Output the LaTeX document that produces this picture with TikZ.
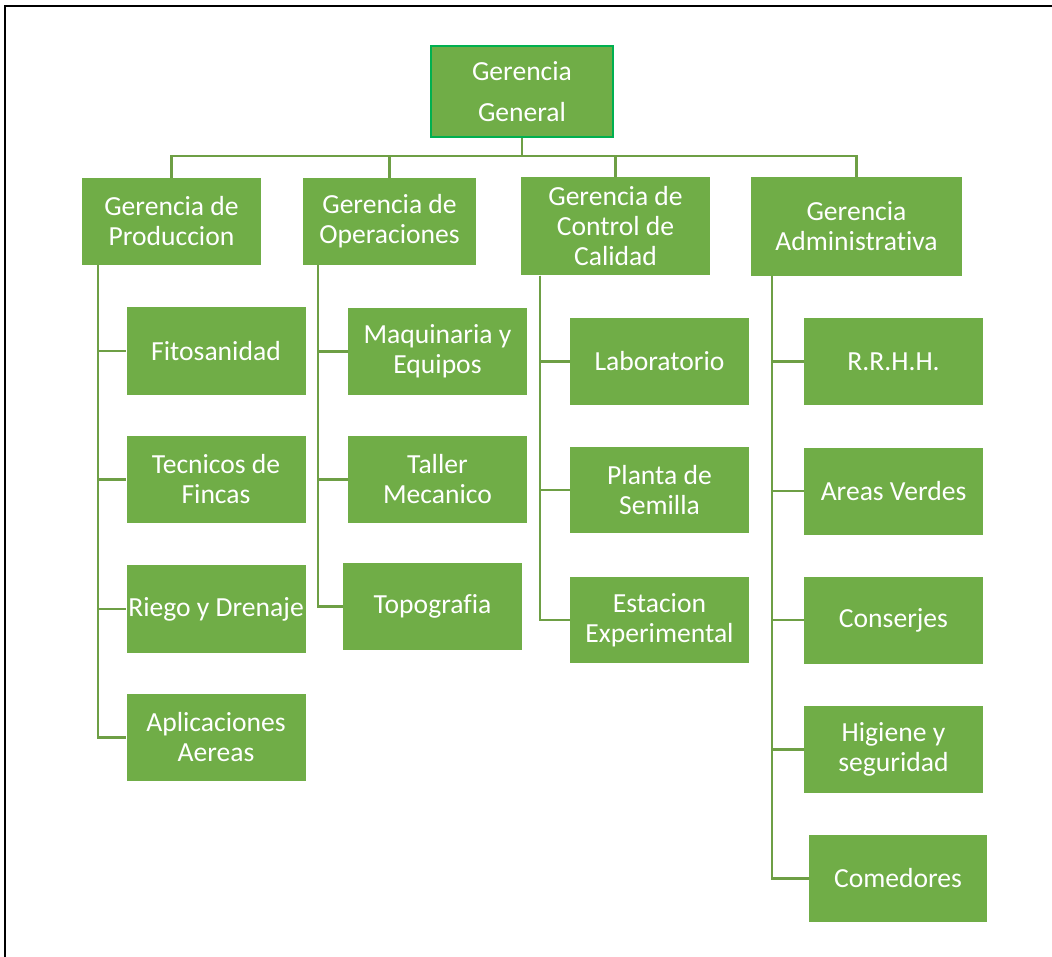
\documentclass[tikz,border=0pt]{standalone}
\usepackage{fontspec}
\setmainfont{Carlito}[Ligatures=NoCommon]
\usepackage{tikz}
\usetikzlibrary{positioning}
\definecolor{verde}{HTML}{70AD47}
\definecolor{verdeborde}{HTML}{00B050}
\definecolor{verdelinea}{HTML}{6E9F45}

\begin{document}
\begin{tikzpicture}[x=1pt, y=-1pt,
    caja/.style={rectangle, fill=verde, text=white, align=center,
      inner sep=0pt, minimum width=179pt, minimum height=87pt,
      font=\fontsize{27.6}{30}\selectfont},
    jefe/.style={caja, draw=verdeborde, line width=2pt,
      font=\fontsize{27.6}{41}\selectfont},
    linea/.style={draw=verdelinea, line width=2.6pt}
]
\useasboundingbox (0,0) rectangle (1052,957);

% marco
\draw[line width=2.5pt] (5,957) -- (5,6) -- (1052,6);

% ---- Gerencia General ----
\node[jefe, minimum width=182pt, minimum height=91pt] (gg) at (522,91.5) {Gerencia\\General};
\coordinate (bus) at (522,156);

% ---- Gerencias ----
\node[caja] (prod) at (171.5,221.5) {Gerencia de\\Produccion};
\node[caja, minimum width=173pt] (oper) at (389.5,221.5) {Gerencia de\\Operaciones};
\node[caja, minimum width=189pt, minimum height=98pt] (cal) at (615.5,226.5) {Gerencia de\\Control de\\Calidad};
\node[caja, minimum width=211pt, minimum height=99pt] (adm) at (856.5,226.5) {Gerencia\\Administrativa};

% Aristas
\draw[linea] (gg.south) -- (bus);
\draw[linea] (bus) -| (prod.north);
\draw[linea] (bus) -| (oper.north);
\draw[linea] (bus) -| (cal.north);
\draw[linea] (bus) -| (adm.north);

% ---- Produccion ----
\node[caja, minimum height=88pt] (fito) at (216,351) {Fitosanidad};
\node[caja] (tecn) at (216,479.5) {Tecnicos de\\Fincas};
\node[caja, minimum height=88pt] (riego) at (216,609) {Riego y Drenaje};
\node[caja] (aplic) at (216,737.5) {Aplicaciones\\Aereas};

\draw[linea] ([xshift=16pt]prod.south west) |- (fito.west);
\draw[linea] ([xshift=16pt]prod.south west) |- (tecn.west);
\draw[linea] ([xshift=16pt]prod.south west) |- (riego.west);
\draw[linea] ([xshift=16pt]prod.south west) |- (aplic.west);

% ---- Operaciones ----
\node[caja] (maq) at (437.5,351.5) {Maquinaria y\\Equipos};
\node[caja] (taller) at (437.5,479.5) {Taller\\Mecanico};
\node[caja] (topo) at (432.5,606.5) {Topografia};

\draw[linea] ([xshift=15pt]oper.south west) |- (maq.west);
\draw[linea] ([xshift=15pt]oper.south west) |- (taller.west);
\draw[linea] ([xshift=15pt]oper.south west) |- (topo.west);

% ---- Control de Calidad ----
\node[caja] (lab) at (659.5,361.5) {Laboratorio};
\node[caja, minimum height=86pt] (planta) at (659.5,490) {Planta de\\Semilla};
\node[caja, minimum height=86pt] (estac) at (659.5,620) {Estacion\\Experimental};

\draw[linea] ([xshift=19pt]cal.south west) |- (lab.west);
\draw[linea] ([xshift=19pt]cal.south west) |- (planta.west);
\draw[linea] ([xshift=19pt]cal.south west) |- (estac.west);

% ---- Administrativa ----
\node[caja] (rrhh) at (893.5,361.5) {R.R.H.H.};
\node[caja] (areas) at (893.5,491) {Areas Verdes};
\node[caja] (cons) at (893.5,620) {Conserjes};
\node[caja] (hig) at (893.5,749.5) {Higiene y\\seguridad};
\node[caja, minimum width=178pt] (com) at (898,878.5) {Comedores};

\draw[linea] ([xshift=21pt]adm.south west) |- (rrhh.west);
\draw[linea] ([xshift=21pt]adm.south west) |- (areas.west);
\draw[linea] ([xshift=21pt]adm.south west) |- (cons.west);
\draw[linea] ([xshift=21pt]adm.south west) |- (hig.west);
\draw[linea] ([xshift=21pt]adm.south west) |- (com.west);

\end{tikzpicture}
\end{document}
